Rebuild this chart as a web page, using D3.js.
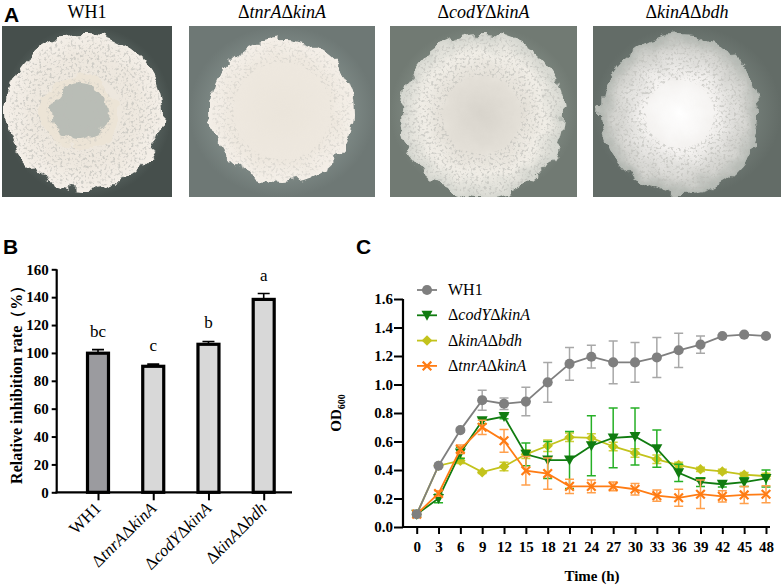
<!DOCTYPE html>
<html>
<head>
<meta charset="utf-8">
<script src="https://cdn.jsdelivr.net/npm/d3@7/dist/d3.min.js"></script>
<style>
  body { margin: 0; background: #fff; }
  text { font-family: "Liberation Serif", "Times New Roman", serif; }
</style>
</head>
<body>
<script>
    // ---- panel B data ----
    var strains = ['WH1', 'tnrA|kinA', 'codY|kinA', 'kinA|bdh'];
    var inhibition = [99.8, 90.4, 106.2, 138.4];
    var inhibitionErr = [2.6, 1.6, 2.0, 4.2];
    var letters = ['bc', 'c', 'b', 'a'];
    var bTicks = [0, 20, 40, 60, 80, 100, 120, 140, 160];

    // ---- panel C data ----
    var hours = [0, 3, 6, 9, 12, 15, 18, 21, 24, 27, 30, 33, 36, 39, 42, 45, 48];
    var wh1 = [0.09, 0.43, 0.68, 0.89, 0.865, 0.88, 1.015, 1.145, 1.195, 1.155, 1.155, 1.19, 1.24, 1.28, 1.34, 1.35, 1.34];
    var wh1Err = [0.01, 0.01, 0.015, 0.07, 0.04, 0.1, 0.14, 0.115, 0.08, 0.15, 0.14, 0.14, 0.12, 0.06, 0.01, 0.01, 0.01];
    var codY = [0.09, 0.2, 0.52, 0.745, 0.775, 0.51, 0.47, 0.47, 0.57, 0.625, 0.635, 0.55, 0.38, 0.315, 0.3, 0.315, 0.34];
    var codYErr = [0.02, 0.03, 0.04, 0.02, 0.015, 0.08, 0.13, 0.2, 0.21, 0.21, 0.2, 0.13, 0.06, 0.03, 0.02, 0.03, 0.06];
    var bdh = [0.09, 0.43, 0.465, 0.385, 0.425, 0.51, 0.57, 0.63, 0.625, 0.565, 0.52, 0.475, 0.435, 0.405, 0.39, 0.367, 0.357];
    var bdhErr = [0.02, 0.01, 0.02, 0.01, 0.03, 0.03, 0.04, 0.03, 0.03, 0.03, 0.03, 0.03, 0.02, 0.015, 0.015, 0.015, 0.02];
    var tnrA = [0.09, 0.235, 0.545, 0.70, 0.605, 0.395, 0.375, 0.285, 0.285, 0.285, 0.265, 0.22, 0.205, 0.23, 0.215, 0.225, 0.23];
    var tnrAErr = [0.02, 0.02, 0.03, 0.05, 0.08, 0.1, 0.11, 0.05, 0.045, 0.03, 0.04, 0.04, 0.06, 0.1, 0.04, 0.06, 0.06];
    var cTicks = [0, 0.2, 0.4, 0.6, 0.8, 1.0, 1.2, 1.4, 1.6];

    var series = [
        { name: 'kinA|bdh', values: bdh, err: bdhErr, color: '#c3c31c', errColor: '#d0d03a', shape: 'diamond' },
        { name: 'codY|kinA', values: codY, err: codYErr, color: '#107c10', errColor: '#26b026', shape: 'triangle' },
        { name: 'tnrA|kinA', values: tnrA, err: tnrAErr, color: '#ff7c14', errColor: '#ffa04c', shape: 'cross' },
        { name: 'WH1', values: wh1, err: wh1Err, color: '#7f7f7f', errColor: '#a8a8a8', shape: 'circle' }
    ];
    var legendOrder = ['WH1', 'codY|kinA', 'kinA|bdh', 'tnrA|kinA'];

    var svg = d3.select('body').append('svg')
        .attr('width', 782).attr('height', 585);
    var defs = svg.append('defs');

    // writes "ΔxxxΔyyy" with italic gene names
    function geneLabel(sel, name) {
        if (name.indexOf('|') < 0) { sel.text(name); return; }
        name.split('|').forEach(function (g) {
            sel.append('tspan').text('\u0394');
            sel.append('tspan').attr('font-style', 'italic').text(g);
        });
    }

    // ================= panel A (plates, drawn) =================
    svg.append('text').attr('x', 4).attr('y', 22)
        .style('font-family', '"Liberation Sans", Arial, sans-serif')
        .attr('font-weight', 'bold').attr('font-size', 21).text('A');

    var plates = [
        { label: 'WH1', x: 2, w: 170, cx: 85, cy: 112, r: 78, bg: '#74827e', ring: true, seed: 3 },
        { label: 'tnrA|kinA', x: 189, w: 186, cx: 282, cy: 111, r: 72, bg: '#8d9a96', ring: false, seed: 7 },
        { label: 'codY|kinA', x: 390, w: 187, cx: 482, cy: 115, r: 82, bg: '#919c94', ring: false, seed: 11 },
        { label: 'kinA|bdh', x: 593, w: 188, cx: 680, cy: 114, r: 80, bg: '#7f8a84', ring: false, seed: 17 }
    ];

    plates.forEach(function (p, i) {
        var vg = defs.append('radialGradient').attr('id', 'vig' + i);
        vg.append('stop').attr('offset', '45%').attr('stop-color', p.bg);
        vg.append('stop').attr('offset', '100%').attr('stop-color', d3.color(p.bg).darker(i === 0 ? 1.4 : 0.7));
        var cg = defs.append('radialGradient').attr('id', 'col' + i);
        if (i === 3) {
            cg.append('stop').attr('offset', '0%').attr('stop-color', '#ffffff');
            cg.append('stop').attr('offset', '45%').attr('stop-color', '#f4f2f0');
            cg.append('stop').attr('offset', '80%').attr('stop-color', '#d4d4d0');
            cg.append('stop').attr('offset', '100%').attr('stop-color', '#b3b8b2');
        } else if (i === 2) {
            cg.append('stop').attr('offset', '0%').attr('stop-color', '#d8d4cc');
            cg.append('stop').attr('offset', '45%').attr('stop-color', '#e3dfd7');
            cg.append('stop').attr('offset', '75%').attr('stop-color', '#f0ede6');
            cg.append('stop').attr('offset', '100%').attr('stop-color', '#d3d5ce');
        } else {
            cg.append('stop').attr('offset', '0%').attr('stop-color', '#ebe5db');
            cg.append('stop').attr('offset', '70%').attr('stop-color', '#eee8df');
            cg.append('stop').attr('offset', '100%').attr('stop-color', '#f4efe8');
        }

        var rough = defs.append('filter').attr('id', 'rough' + i)
            .attr('x', '-20%').attr('y', '-20%').attr('width', '140%').attr('height', '140%');
        rough.append('feTurbulence').attr('type', 'fractalNoise').attr('baseFrequency', 0.06)
            .attr('numOctaves', 3).attr('seed', p.seed).attr('result', 'n');
        rough.append('feDisplacementMap').attr('in', 'SourceGraphic').attr('in2', 'n')
            .attr('scale', 16).attr('xChannelSelector', 'R').attr('yChannelSelector', 'G');

        var speck = defs.append('filter').attr('id', 'speck' + i)
            .attr('x', '-20%').attr('y', '-20%').attr('width', '140%').attr('height', '140%');
        speck.append('feTurbulence').attr('type', 'fractalNoise').attr('baseFrequency', 0.38)
            .attr('numOctaves', 2).attr('seed', p.seed + 1).attr('result', 't');
        speck.append('feColorMatrix').attr('in', 't').attr('type', 'matrix')
            .attr('values', '0 0 0 0 0.5  0 0 0 0 0.5  0 0 0 0 0.47  5 0 0 0 -2.6')
            .attr('result', 'dots');
        speck.append('feComposite').attr('in', 'dots').attr('in2', 'SourceGraphic').attr('operator', 'in');

        defs.append('clipPath').attr('id', 'clip' + i)
            .append('rect').attr('x', p.x).attr('y', 26).attr('width', p.w).attr('height', 171);

        var g = svg.append('g').attr('clip-path', 'url(#clip' + i + ')');
        g.append('rect').attr('x', p.x).attr('y', 26).attr('width', p.w).attr('height', 171)
            .attr('fill', 'url(#vig' + i + ')');
        g.append('circle').attr('cx', p.cx).attr('cy', p.cy).attr('r', p.r)
            .attr('fill', 'url(#col' + i + ')').attr('filter', 'url(#rough' + i + ')');
        // speckle on the outer zone
        var inner = (i === 1) ? 0.7 : (i === 3 ? 0.45 : 0.5);
        g.append('circle').attr('cx', p.cx).attr('cy', p.cy).attr('r', p.r * (1 + inner) / 2 - 2)
            .attr('fill', 'none').attr('stroke', '#000').attr('stroke-width', p.r * (1 - inner))
            .attr('filter', 'url(#speck' + i + ')').attr('opacity', i === 1 ? 0.35 : 0.6);
        if (p.ring) {
            g.append('circle').attr('cx', p.cx - 5).attr('cy', p.cy).attr('r', 38)
                .attr('fill', '#ece4d6').attr('filter', 'url(#rough' + i + ')');
            g.append('circle').attr('cx', p.cx - 5).attr('cy', p.cy).attr('r', 29)
                .attr('fill', '#b9bdb6').attr('filter', 'url(#rough' + i + ')');
            g.append('circle').attr('cx', p.cx - 5).attr('cy', p.cy).attr('r', 24)
                .attr('fill', 'none').attr('stroke', '#000').attr('stroke-width', 20)
                .attr('filter', 'url(#speck' + i + ')').attr('opacity', 0.35);
        }
        var t = svg.append('text').attr('x', p.x + p.w / 2).attr('y', 18)
            .attr('text-anchor', 'middle').attr('font-size', 18);
        geneLabel(t, p.label);
    });

    // ================= panel B =================
    svg.append('text').attr('x', 3).attr('y', 254)
        .style('font-family', '"Liberation Sans", Arial, sans-serif')
        .attr('font-weight', 'bold').attr('font-size', 21).text('B');

    var yB = d3.scaleLinear().domain([0, 160]).range([492.3, 269.3]);
    var xB = d3.scalePoint().domain(strains).range([98, 263.7]);
    var barW = 21;

    var gB = svg.append('g');
    gB.selectAll('.ebar').data(strains).enter().append('path')
        .attr('d', function (d, i) {
            var x = xB(d), top = yB(inhibition[i] + inhibitionErr[i]);
            return 'M' + x + ',' + yB(inhibition[i]) + 'V' + top + 'M' + (x - 6) + ',' + top + 'H' + (x + 6);
        })
        .attr('stroke', '#000').attr('stroke-width', 1.6).attr('fill', 'none');
    gB.selectAll('.bar').data(strains).enter().append('rect')
        .attr('x', function (d) { return xB(d) - barW / 2; })
        .attr('y', function (d, i) { return yB(inhibition[i]); })
        .attr('width', barW)
        .attr('height', function (d, i) { return yB(0) - yB(inhibition[i]); })
        .attr('fill', function (d, i) { return i === 0 ? '#9b9b9f' : '#d8d8d8'; })
        .attr('stroke', '#000').attr('stroke-width', 3.2);
    gB.selectAll('.letter').data(strains).enter().append('text')
        .attr('x', function (d) { return xB(d); })
        .attr('y', function (d, i) { return yB(inhibition[i] + inhibitionErr[i]) - 13; })
        .attr('text-anchor', 'middle').attr('font-size', 17)
        .text(function (d, i) { return letters[i]; });

    var axYB = gB.append('g').attr('transform', 'translate(56.7,0)')
        .call(d3.axisLeft(yB).tickValues(bTicks).tickSize(5).tickPadding(3));
    axYB.select('.domain').attr('stroke-width', 2.2).attr('d', 'M0,' + yB(160) + 'V' + (yB(0) + 1));
    axYB.selectAll('.tick line').attr('stroke-width', 2);
    axYB.selectAll('.tick text').attr('font-size', 15).attr('font-weight', 'bold')
        .style('font-family', '"Liberation Serif", serif');

    var axXB = gB.append('g').attr('transform', 'translate(0,' + yB(0) + ')')
        .call(d3.axisBottom(xB).tickSize(8).tickFormat(''));
    axXB.select('.domain').attr('stroke-width', 2.2).attr('d', 'M55.6,0H292');
    axXB.selectAll('.tick line').attr('stroke-width', 2);
    strains.forEach(function (s) {
        var t = gB.append('text')
            .attr('transform', 'translate(' + (xB(s) + 4) + ',' + (yB(0) + 17) + ') rotate(-45)')
            .attr('text-anchor', 'end').attr('font-size', 17);
        geneLabel(t, s);
    });

    gB.append('text')
        .attr('transform', 'translate(22,' + yB(80) + ') rotate(-90)')
        .attr('text-anchor', 'middle').attr('font-size', 16).attr('font-weight', 'bold')
        .text('Relative inhibition rate\uFF08%\uFF09');

    // ================= panel C =================
    svg.append('text').attr('x', 356).attr('y', 254)
        .style('font-family', '"Liberation Sans", Arial, sans-serif')
        .attr('font-weight', 'bold').attr('font-size', 21).text('C');

    var xC = d3.scaleLinear().domain([0, 48]).range([416.7, 766]);
    var yC = d3.scaleLinear().domain([0, 1.6]).range([527, 299]);
    var gC = svg.append('g');

    var axYC = gC.append('g').attr('transform', 'translate(403,0)')
        .call(d3.axisLeft(yC).tickValues(cTicks).tickSize(9).tickPadding(1)
            .tickFormat(d3.format('.1f')));
    axYC.select('.domain').attr('stroke-width', 2.2).attr('d', 'M0,' + yC(1.6) + 'V' + (yC(0) + 1));
    axYC.selectAll('.tick line').attr('stroke-width', 2);
    axYC.selectAll('.tick text').attr('font-size', 15).attr('font-weight', 'bold')
        .style('font-family', '"Liberation Serif", serif');

    var axXC = gC.append('g').attr('transform', 'translate(0,' + yC(0) + ')')
        .call(d3.axisBottom(xC).tickValues(hours).tickSize(7).tickPadding(7));
    axXC.select('.domain').attr('stroke-width', 2.2).attr('d', 'M402,0H770');
    axXC.selectAll('.tick line').attr('stroke-width', 2);
    axXC.selectAll('.tick text').attr('font-size', 15).attr('font-weight', 'bold')
        .style('font-family', '"Liberation Serif", serif');

    gC.append('text').attr('x', 592).attr('y', 581).attr('text-anchor', 'middle')
        .attr('font-size', 15).attr('font-weight', 'bold').text('Time (h)');
    var od = gC.append('text').attr('transform', 'translate(341,413) rotate(-90)')
        .attr('text-anchor', 'middle').attr('font-size', 15).attr('font-weight', 'bold');
    od.append('tspan').text('OD');
    od.append('tspan').attr('font-size', 10).attr('dy', 4).text('600');

    var symbols = {
        circle: d3.symbol().type(d3.symbolCircle).size(80),
        diamond: d3.symbol().type(d3.symbolDiamond2).size(70),
        cross: d3.symbol().type(d3.symbolX).size(50)
    };
    function drawMarker(sel, s) {
        if (s.shape === 'triangle') {
            sel.append('path').attr('d', 'M-5.5,-4.5L5.5,-4.5L0,5.5Z').attr('fill', s.color);
        } else if (s.shape === 'cross') {
            sel.append('path').attr('d', symbols.cross()).attr('fill', 'none')
                .attr('stroke', s.color).attr('stroke-width', 2.2);
        } else {
            sel.append('path').attr('d', symbols[s.shape]()).attr('fill', s.color);
        }
    }

    var line = d3.line().x(function (d) { return xC(d[0]); }).y(function (d) { return yC(d[1]); });

    series.forEach(function (s) {
        var g = gC.append('g');
        var pts = hours.map(function (h, i) { return [h, s.values[i], s.err[i]]; });
        g.selectAll('.err').data(pts).enter().append('path')
            .attr('d', function (d) {
                var x = xC(d[0]), t = yC(d[1] + d[2]), b = yC(d[1] - d[2]);
                return 'M' + x + ',' + t + 'V' + b + 'M' + (x - 4.5) + ',' + t + 'H' + (x + 4.5) +
                    'M' + (x - 4.5) + ',' + b + 'H' + (x + 4.5);
            })
            .attr('stroke', s.errColor).attr('stroke-width', 1.5).attr('fill', 'none');
        g.append('path').datum(pts).attr('d', line)
            .attr('fill', 'none').attr('stroke', s.color).attr('stroke-width', 1.8);
        g.selectAll('.mk').data(pts).enter().append('g')
            .attr('transform', function (d) { return 'translate(' + xC(d[0]) + ',' + yC(d[1]) + ')'; })
            .each(function () { drawMarker(d3.select(this), s); });
    });

    // legend
    var lg = gC.append('g');
    legendOrder.forEach(function (name, i) {
        var s = series.filter(function (d) { return d.name === name; })[0];
        var y = 290 + i * 25.3;
        lg.append('line').attr('x1', 417).attr('x2', 437).attr('y1', y).attr('y2', y)
            .attr('stroke', s.color).attr('stroke-width', 1.8);
        drawMarker(lg.append('g').attr('transform', 'translate(427,' + y + ')'), s);
        var t = lg.append('text').attr('x', 448).attr('y', y + 5).attr('font-size', 16);
        geneLabel(t, name);
    });
</script>
</body>
</html>
